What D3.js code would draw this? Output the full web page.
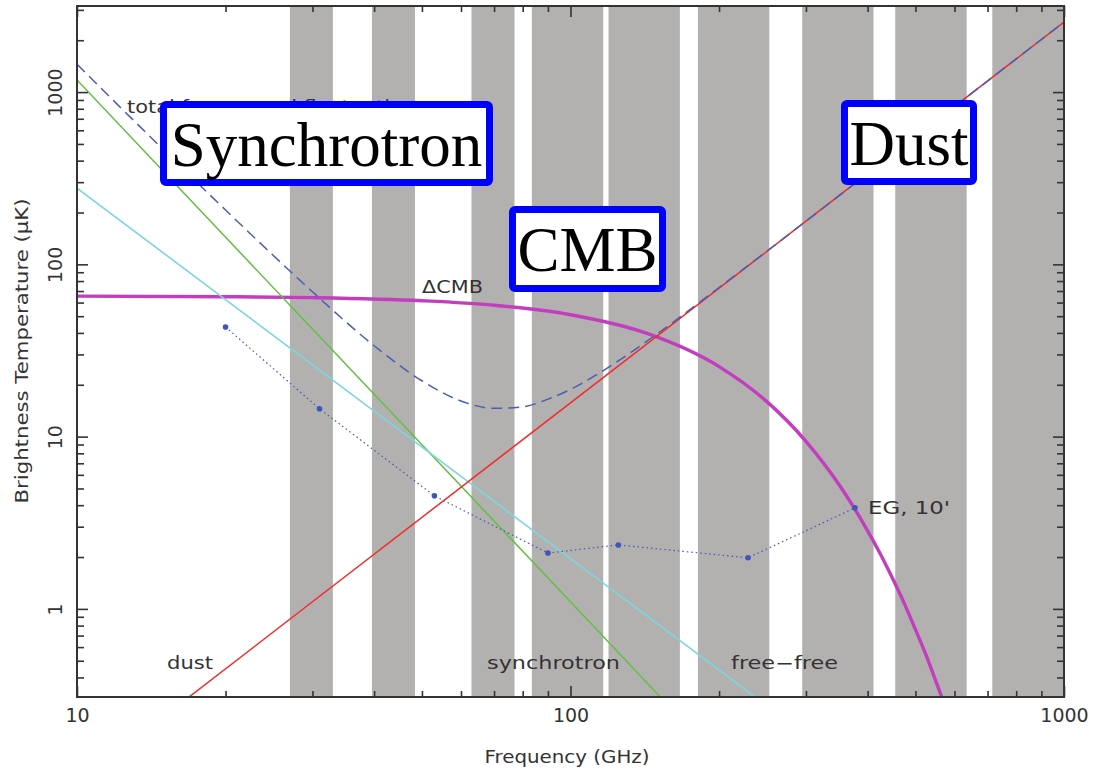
<!DOCTYPE html>
<html>
<head>
<meta charset="utf-8">
<script src="https://cdn.jsdelivr.net/npm/d3@7"></script>
<style>
  html, body { margin: 0; padding: 0; background: #fff; }
  svg { display: block; }
</style>
</head>
<body>
<svg id="chart" width="1095" height="771"></svg>
<script>
// ---- Frequency bands (GHz), lower and upper edges ----
const bandLow  = [27, 39.6, 63, 83.5, 119.4, 181.2, 294.8, 455, 715.6];
const bandHigh = [33, 48.4, 77, 116.5, 166.6, 252.8, 411.2, 635, 998.4];

// ---- Foreground spectra: frequency (GHz) and brightness temperature (uK) ----
const dustFreq = [10, 30, 100, 300, 1000];
const dustT    = [0.097, 1.10, 15.7, 178, 2550];

const syncFreq = [10, 30, 100, 300];
const syncT    = [1175, 42.1, 1.10, 0.039];

const ffFreq = [10, 30, 100, 300];
const ffT    = [277, 26.1, 1.96, 0.185];

const totalFreq = [10, 12, 15, 20, 25, 30, 40, 50, 60, 70, 80, 90, 100, 120, 150, 200, 300, 500, 1000];
const totalT    = [1452, 863, 460, 206.7, 112.5, 69.3, 33.7, 21.1, 16.1, 14.6, 14.9, 16.5, 18.8, 25.5, 39.6, 73.4, 178, 551, 2550];

// CMB anisotropy in brightness temperature
const cmbFreq = [10, 20, 30, 50, 70, 100, 143, 200, 250, 300, 353, 375, 400, 425, 450, 475, 500, 525, 550, 575, 600];
const cmbT    = [65.4, 64.9, 64.1, 61.5, 57.9, 51.0, 39.7, 25.5, 15.96, 9.39, 5.08, 3.88, 2.84, 2.07, 1.49, 1.07, 0.76, 0.542, 0.38, 0.269, 0.19];

// Extragalactic sources, 10 arcmin
const egFreq = [20, 31, 53, 90, 125, 229, 377];
const egT    = [43.3, 14.5, 4.53, 2.11, 2.35, 1.98, 3.86];

// ---- Axis ticks ----
const xMajor = [10, 100, 1000];
const xMinor = [20, 30, 40, 50, 60, 70, 80, 90, 200, 300, 400, 500, 600, 700, 800, 900];
const yMajor = [1, 10, 100, 1000];
const yMinor = [0.4, 0.5, 0.6, 0.7, 0.8, 0.9, 2, 3, 4, 5, 6, 7, 8, 9,
                20, 30, 40, 50, 60, 70, 80, 90, 200, 300, 400, 500, 600, 700, 800, 900, 2000, 3000];

// ---- Layout ----
const W = 1095, H = 771;
const P = { left: 77, right: 1064, top: 6, bottom: 697 };
const ink = "#333";
const sans = "'DejaVu Sans', 'Liberation Sans', sans-serif";
const serif = "'Liberation Serif', 'Times New Roman', serif";

const x = d3.scaleLog().domain([10, 1000]).range([P.left, P.right]);
const y = d3.scaleLog().domain([0.308, 3160]).range([P.bottom, P.top]);

const svg = d3.select("#chart");
svg.append("rect").attr("width", W).attr("height", H).attr("fill", "#fff");

svg.append("defs").append("clipPath").attr("id", "plotArea")
  .append("rect")
  .attr("x", P.left).attr("y", P.top)
  .attr("width", P.right - P.left).attr("height", P.bottom - P.top);

// Bands
svg.append("g").attr("clip-path", "url(#plotArea)")
  .selectAll("rect")
  .data(bandLow.map((lo, i) => [lo, bandHigh[i]]))
  .join("rect")
  .attr("x", d => x(d[0]))
  .attr("width", d => x(d[1]) - x(d[0]))
  .attr("y", P.top)
  .attr("height", P.bottom - P.top)
  .attr("fill", "#b2b1b0");

// Curves
const pairs = (fs, ts) => fs.map((f, i) => [f, ts[i]]);
const straight = d3.line().x(d => x(d[0])).y(d => y(d[1]));
const smooth = d3.line().x(d => x(d[0])).y(d => y(d[1])).curve(d3.curveMonotoneX);

const curves = svg.append("g").attr("clip-path", "url(#plotArea)").attr("fill", "none");

curves.append("path").attr("d", smooth(pairs(cmbFreq, cmbT)))
  .attr("stroke", "#c23ebf").attr("stroke-width", 3.4);

curves.append("path").attr("d", straight(pairs(syncFreq, syncT)))
  .attr("stroke", "#62c042").attr("stroke-width", 1.5);

curves.append("path").attr("d", straight(pairs(ffFreq, ffT)))
  .attr("stroke", "#7dd6de").attr("stroke-width", 1.6);

curves.append("path").attr("d", straight(pairs(dustFreq, dustT)))
  .attr("stroke", "#f42a2a").attr("stroke-width", 1.5);

curves.append("path").attr("d", smooth(pairs(totalFreq, totalT)))
  .attr("stroke", "#4c5db3").attr("stroke-width", 1.5)
  .attr("stroke-dasharray", "11 6");

curves.append("path").attr("d", straight(pairs(egFreq, egT)))
  .attr("stroke", "#4257b5").attr("stroke-width", 1.2)
  .attr("stroke-dasharray", "1.5 3");

curves.selectAll("circle")
  .data(pairs(egFreq, egT))
  .join("circle")
  .attr("cx", d => x(d[0])).attr("cy", d => y(d[1]))
  .attr("r", 2.8).attr("fill", "#3f55b8");

// Ticks on all four sides
function ticks(axisFn, scale, vals, len, transform) {
  const g = svg.append("g").attr("transform", transform)
    .call(axisFn(scale).tickValues(vals).tickSizeInner(-len).tickSizeOuter(0).tickFormat(""));
  g.select(".domain").remove();
  g.selectAll("line").attr("stroke", ink).attr("stroke-width", 1.6);
  g.selectAll("text").remove();
}
ticks(d3.axisBottom, x, xMajor, 11, `translate(0,${P.bottom})`);
ticks(d3.axisBottom, x, xMinor, 6,  `translate(0,${P.bottom})`);
ticks(d3.axisTop,    x, xMajor, 11, `translate(0,${P.top})`);
ticks(d3.axisTop,    x, xMinor, 6,  `translate(0,${P.top})`);
ticks(d3.axisLeft,   y, yMajor, 11, `translate(${P.left},0)`);
ticks(d3.axisLeft,   y, yMinor, 7,  `translate(${P.left},0)`);
ticks(d3.axisRight,  y, yMajor, 11, `translate(${P.right},0)`);
ticks(d3.axisRight,  y, yMinor, 7,  `translate(${P.right},0)`);

// Frame
svg.append("rect")
  .attr("x", P.left).attr("y", P.top)
  .attr("width", P.right - P.left).attr("height", P.bottom - P.top)
  .attr("fill", "none").attr("stroke", ink).attr("stroke-width", 2);

// Tick labels
const xl = svg.append("g").attr("transform", `translate(0,${P.bottom})`)
  .call(d3.axisBottom(x).tickValues(xMajor).tickSize(0).tickPadding(12).tickFormat(d3.format("d")));
xl.select(".domain").remove();
xl.selectAll("text").attr("font-family", sans).attr("font-size", 19).attr("fill", ink);

const yl = svg.append("g").attr("transform", `translate(${P.left},0)`)
  .call(d3.axisLeft(y).tickValues(yMajor).tickSize(0).tickFormat(d3.format("d")));
yl.select(".domain").remove();
yl.selectAll("text")
  .attr("x", 0).attr("y", 0).attr("dy", "0.36em")
  .attr("transform", "translate(-22,0) rotate(-90)")
  .attr("text-anchor", "middle")
  .attr("font-family", sans).attr("font-size", 19).attr("fill", ink);

// Axis titles
svg.append("text")
  .attr("x", 567).attr("y", 763)
  .attr("text-anchor", "middle")
  .attr("font-family", sans).attr("font-size", 17).attr("fill", ink)
  .attr("textLength", 165).attr("lengthAdjust", "spacingAndGlyphs")
  .text("Frequency (GHz)");

svg.append("text")
  .attr("transform", "translate(28,351) rotate(-90)")
  .attr("text-anchor", "middle")
  .attr("font-family", sans).attr("font-size", 17).attr("fill", ink)
  .attr("textLength", 305).attr("lengthAdjust", "spacingAndGlyphs")
  .text("Brightness Temperature (\u03BCK)");

// Curve labels
const curveLabels = [
  { t: "total foreground fluctuations", x: 127, y: 113, w: 300 },
  { t: "\u0394CMB", x: 422, y: 293, w: 61 },
  { t: "EG,  10'", x: 868, y: 514, w: 82 },
  { t: "dust", x: 167, y: 669, w: 46 },
  { t: "synchrotron", x: 487, y: 669, w: 133 },
  { t: "free\u2212free", x: 731, y: 669, w: 107 }
];
svg.append("g").selectAll("text")
  .data(curveLabels)
  .join("text")
  .attr("x", d => d.x).attr("y", d => d.y)
  .attr("font-family", sans).attr("font-size", 17).attr("fill", ink)
  .attr("textLength", d => d.w).attr("lengthAdjust", "spacingAndGlyphs")
  .text(d => d.t);

// Component callouts
const callouts = [
  { t: "Synchrotron", x0: 160, x1: 493, y0: 101, y1: 186, base: 166 },
  { t: "CMB", x0: 509, x1: 666, y0: 206, y1: 292, base: 271 },
  { t: "Dust", x0: 841, x1: 977, y0: 100, y1: 185, base: 165 }
];
const cg = svg.append("g").selectAll("g").data(callouts).join("g");
cg.append("rect")
  .attr("x", d => d.x0 + 3.5).attr("y", d => d.y0 + 3.5)
  .attr("width", d => d.x1 - d.x0 - 7).attr("height", d => d.y1 - d.y0 - 7)
  .attr("rx", 2.5)
  .attr("fill", "#fff").attr("stroke", "#0000ff").attr("stroke-width", 7);
cg.append("text")
  .attr("x", d => (d.x0 + d.x1) / 2).attr("y", d => d.base)
  .attr("text-anchor", "middle")
  .attr("font-family", serif).attr("font-size", 63).attr("fill", "#000")
  .text(d => d.t);
</script>
</body>
</html>
